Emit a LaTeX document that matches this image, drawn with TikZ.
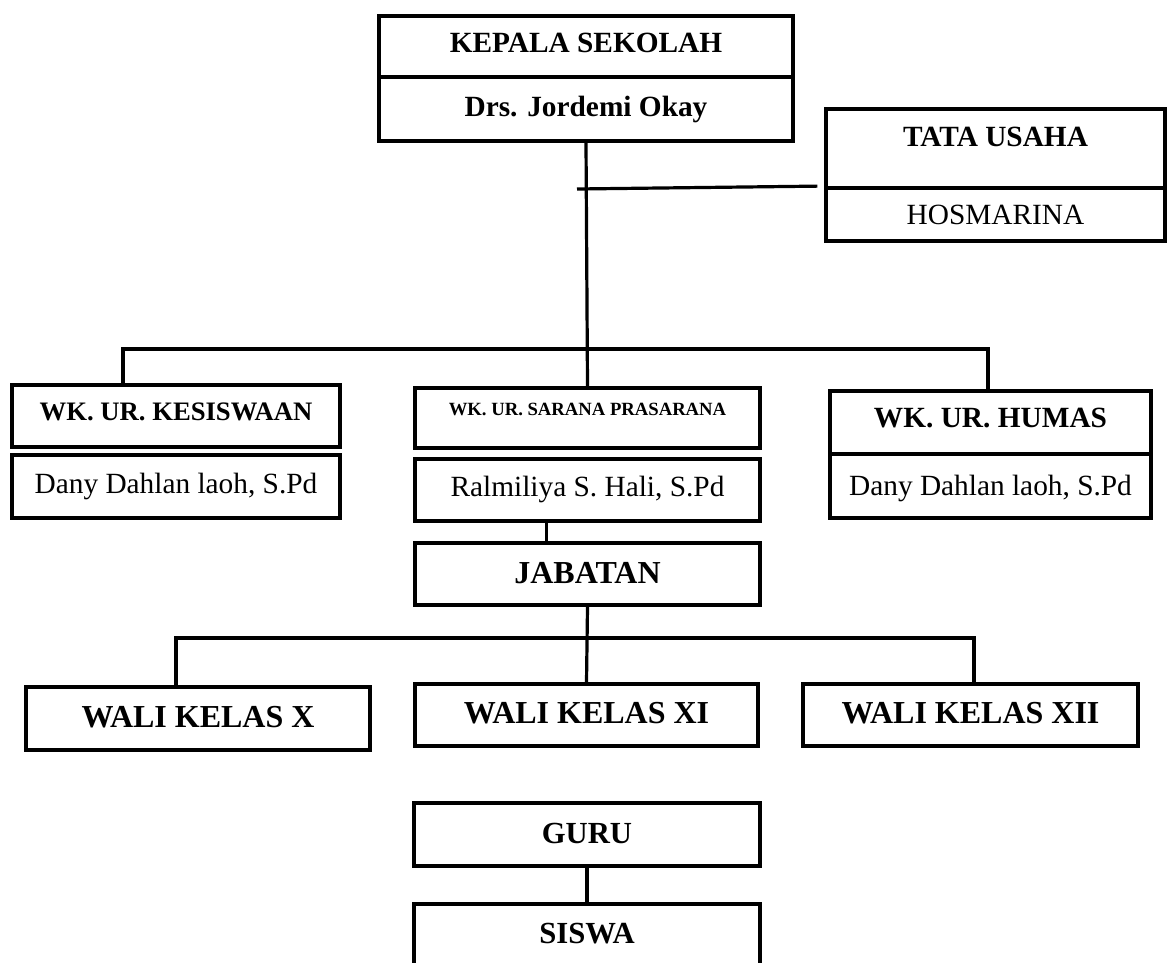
\documentclass[tikz,border=0pt]{standalone}
\usepackage{fontspec}
\setmainfont{Liberation Serif}
\newcommand\cellnode[8]{\node[cell, minimum width={(#4-#2)*0.75pt}, minimum height={(#5-#3)*0.75pt}, text height=#6, text depth=#7] (#1) at ({(#2+#4)/2},{(#3+#5)/2}) {#8};}
\begin{document}
\begin{tikzpicture}[x=0.75pt,y=-0.75pt,
  cell/.style={draw, line width=2.8pt, inner sep=0pt, font=\fontsize{22}{26}\selectfont},
  conn/.style={line width=2.4pt},
  tb/.style={font=\bfseries\fontsize{22}{26}\selectfont}]
\useasboundingbox (0,0) rectangle (1168,963);
\clip (0,0) rectangle (1168,963);
% top
\cellnode{kep}{379}{16}{793}{77}{9.75pt}{0pt}{\bfseries KEPALA SEKOLAH}
\cellnode{kepn}{379}{77}{793}{141}{12pt}{0pt}{\bfseries Drs. Jordemi Okay}
\cellnode{tu}{826}{109}{1165}{188}{0pt}{2.25pt}{\bfseries TATA USAHA}
\cellnode{tun}{826}{188}{1165}{241}{15.75pt}{0pt}{HOSMARINA}
% wakil
\cellnode{kes}{12}{385}{340}{447}{6pt}{0pt}{\fontsize{20}{24}\selectfont\bfseries WK. UR. KESISWAAN}
\cellnode{kesn}{12}{455}{340}{518}{9.75pt}{0pt}{Dany Dahlan laoh, S.Pd}
\cellnode{sp}{415}{388}{760}{448}{0pt}{4.5pt}{\fontsize{14}{17}\selectfont\bfseries WK. UR. SARANA PRASARANA}
\cellnode{spn}{415}{459}{760}{521}{9pt}{0pt}{Ralmiliya S. Hali, S.Pd}
\cellnode{hum}{830}{391}{1151}{454}{6.75pt}{0pt}{\bfseries WK. UR. HUMAS}
\cellnode{humn}{830}{454}{1151}{518}{13.5pt}{0pt}{Dany Dahlan laoh, S.Pd}
% jabatan
\cellnode{jab}{415}{543}{760}{605}{13.5pt}{0pt}{\fontsize{24}{28}\selectfont\bfseries JABATAN}
% wali kelas
\cellnode{w10}{26}{687}{370}{750}{12.75pt}{0pt}{\fontsize{24}{28}\selectfont\bfseries WALI KELAS X}
\cellnode{w11}{415}{684}{758}{746}{12pt}{0pt}{\fontsize{24}{28}\selectfont\bfseries WALI KELAS XI}
\cellnode{w12}{803}{684}{1138}{746}{12pt}{0pt}{\fontsize{24}{28}\selectfont\bfseries WALI KELAS XII}
% guru siswa
\cellnode{guru}{414}{803}{760}{866}{12.75pt}{0pt}{\fontsize{23}{27}\selectfont\bfseries GURU}
\cellnode{siswa}{414}{904}{760}{985}{0pt}{2.25pt}{\fontsize{23}{27}\selectfont\bfseries SISWA}
% connectors
\coordinate (tuL) at (577,189);
\coordinate (busL) at (123,349);
\coordinate (busR) at (988,349);
\coordinate (wbL) at (176,638);
\coordinate (wbR) at (974,638);
\draw[conn] (kepn.south) -- (sp.north);
\draw[conn] (tuL) -- ([xshift=-5pt]tun.north west);
\draw[conn] (kes.north -| busL) -- (busL) -- (busR) -- (hum.north -| busR);
\draw[conn] ([xshift=-31pt]spn.south) -- ([xshift=-31pt]jab.north);
\draw[conn] (jab.south) -- (w11.north);
\draw[conn] (w10.north -| wbL) -- (wbL) -- (wbR) -- (w12.north -| wbR);
\draw[conn] (guru.south) -- (siswa.north);
\end{tikzpicture}
\end{document}
